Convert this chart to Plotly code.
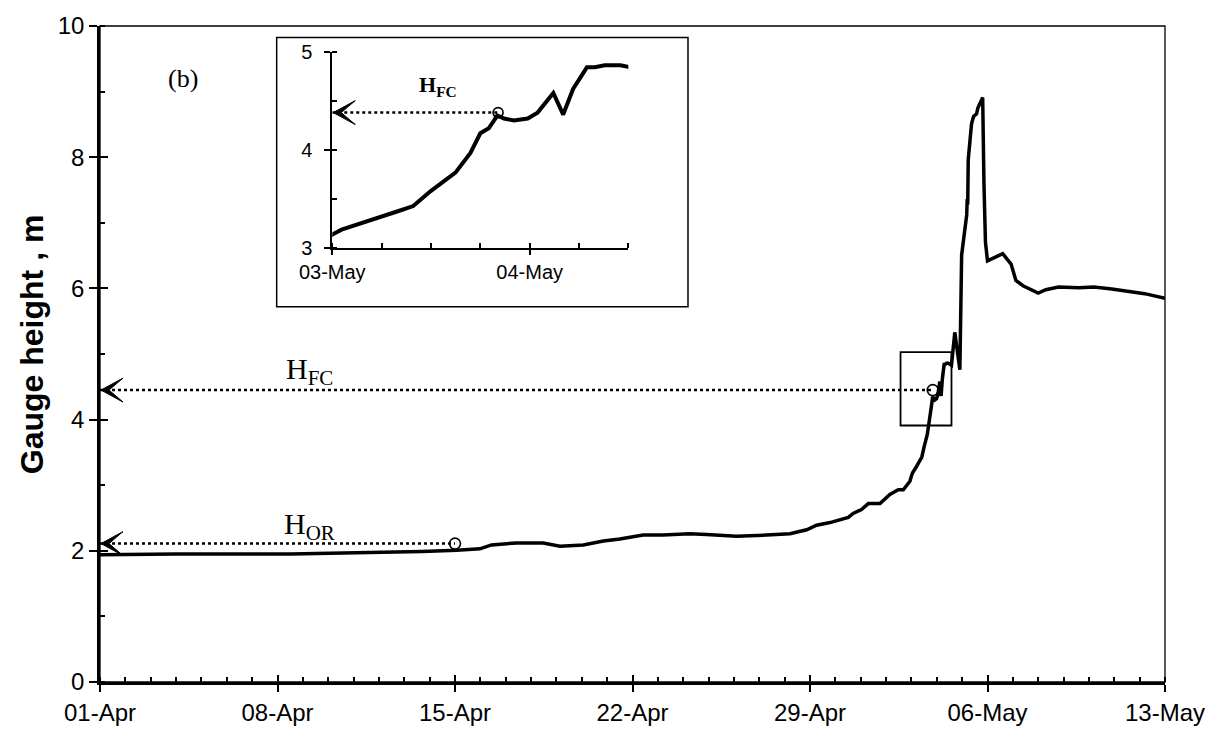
import pandas as pd
import plotly.graph_objects as go

start = pd.Timestamp("2024-04-01")

# Gauge-height record: time as days since 01-Apr 00:00, height in m
days = [0.0, 3.0, 7.5, 11.4, 12.7, 14.07, 14.98, 15.44, 16.43, 17.48, 18.14, 19.06,
        19.85, 20.5, 21.42, 22.21, 23.26, 23.92, 25.1, 26.29, 27.21, 27.87, 28.26,
        28.79, 29.51, 29.7, 30.03, 30.3, 30.76, 31.15, 31.48, 31.68, 31.94, 32.0,
        32.047, 32.175, 32.25, 32.336, 32.41, 32.497, 32.624, 32.70, 32.75, 32.793,
        32.836, 32.87, 32.92, 32.99, 33.04, 33.12, 33.17, 33.22, 33.29, 33.33, 33.38,
        33.46, 33.51, 33.58, 33.71, 33.91, 33.98, 34.18, 34.20, 34.22, 34.24, 34.37,
        34.45, 34.57, 34.62, 34.70, 34.81, 34.86, 34.92, 35.0, 35.3, 35.6, 35.93,
        36.12, 36.4, 37.0, 37.3, 37.8, 38.6, 39.2, 39.9, 40.56, 41.2, 42.0]
height = [1.94, 1.95, 1.95, 1.97, 1.99, 2.01, 2.03, 2.09, 2.12, 2.12, 2.07, 2.09,
          2.15, 2.18, 2.24, 2.24, 2.26, 2.25, 2.22, 2.24, 2.26, 2.32, 2.39,
          2.43, 2.51, 2.57, 2.63, 2.72, 2.72, 2.86, 2.93, 2.93, 3.06, 3.14,
          3.19, 3.27, 3.32, 3.38, 3.43, 3.58, 3.77, 3.97, 4.17, 4.22,
          4.35, 4.32, 4.30, 4.32, 4.38, 4.58, 4.36, 4.62, 4.84, 4.84, 4.86,
          4.86, 4.84, 4.83, 5.33, 4.76, 6.51, 7.12, 7.36, 7.28, 7.96, 8.51,
          8.62, 8.66, 8.75, 8.81, 8.91, 7.60, 6.70, 6.42, 6.48, 6.53, 6.37,
          6.12, 6.04, 5.93, 5.98, 6.02, 6.01, 6.02, 5.99, 5.96, 5.92, 5.85]

# Marked levels
hor_day, hor_value = 14.0, 2.11
hfc_day, hfc_main_value, hfc_inset_value = 32.84, 4.45, 4.38
zoom_box_days = [31.57, 33.58]
zoom_box_heights = [3.91, 5.03]
main_range_days = [0, 42]
inset_range_days = [32.0, 33.5]
inset_range_heights = [3, 5]

DAY_MS = 86400000


def ts(d):
    return (start + pd.Timedelta(days=d)).strftime("%Y-%m-%d %H:%M:%S")


x = start + pd.to_timedelta(days, unit="D")

FONT = "Arial, Liberation Sans, sans-serif"
SERIF = "Times New Roman, Liberation Serif, serif"

fig = go.Figure()
fig.add_trace(go.Scatter(x=x, y=height, mode="lines",
                         line=dict(color="black", width=3.5), xaxis="x", yaxis="y",
                         hoverinfo="skip"))
fig.add_trace(go.Scatter(x=[ts(hor_day), ts(hfc_day)], y=[hor_value, hfc_main_value],
                         mode="markers", xaxis="x", yaxis="y",
                         marker=dict(symbol="circle-open", size=11, color="black",
                                     line=dict(width=1.6, color="black"))))
# inset
fig.add_trace(go.Scatter(x=x, y=height, mode="lines",
                         line=dict(color="black", width=4), xaxis="x2", yaxis="y2"))
fig.add_trace(go.Scatter(x=[ts(hfc_day)], y=[hfc_inset_value], mode="markers",
                         xaxis="x2", yaxis="y2",
                         marker=dict(symbol="circle-open", size=10, color="black",
                                     line=dict(width=1.6, color="black"))))
# empty trace for overlay axes (inner halves of major ticks)
fig.add_trace(go.Scatter(x=[], y=[], xaxis="x3", yaxis="y3", showlegend=False))

main_x_range = [ts(main_range_days[0]), ts(main_range_days[1])]

fig.update_layout(
    width=1228, height=738,
    margin=dict(l=100, r=63, t=21, b=51),
    paper_bgcolor="white", plot_bgcolor="white",
    showlegend=False,
    xaxis=dict(type="date", range=main_x_range, domain=[0, 1], anchor="y",
               showline=True, linewidth=2.5, linecolor="black", showgrid=False,
               zeroline=False, ticks="outside", ticklen=7, tickwidth=2, tickcolor="black",
               tick0=ts(0), dtick=7 * DAY_MS, tickformat="%d-%b",
               tickfont=dict(family=FONT, size=24, color="black"),
               minor=dict(ticks="inside", ticklen=5, tickwidth=1.5, tickcolor="black",
                          dtick=DAY_MS, tick0=ts(0), showgrid=False)),
    yaxis=dict(range=[0, 10], domain=[0, 1], anchor="x",
               showline=True, linewidth=2.5, linecolor="black", showgrid=False,
               zeroline=False, ticks="outside", ticklen=8, tickwidth=2, tickcolor="black",
               dtick=2, tickfont=dict(family=FONT, size=24, color="black"),
               minor=dict(ticks="inside", ticklen=5, tickwidth=1.5, tickcolor="black",
                          dtick=1, showgrid=False)),
    xaxis3=dict(type="date", range=main_x_range, overlaying="x", anchor="y3",
                showline=False, showgrid=False, zeroline=False, showticklabels=False,
                ticks="inside", ticklen=7, tickwidth=2, tickcolor="black",
                tick0=ts(0), dtick=7 * DAY_MS),
    yaxis3=dict(range=[0, 10], overlaying="y", anchor="x3",
                showline=False, showgrid=False, zeroline=False, showticklabels=False,
                ticks="inside", ticklen=8, tickwidth=2, tickcolor="black", dtick=2),
    xaxis2=dict(type="date", range=[ts(inset_range_days[0]), ts(inset_range_days[1])],
                domain=[0.2181, 0.4961], anchor="y2",
                showline=True, linewidth=2, linecolor="black", showgrid=False,
                zeroline=False, ticks="outside", ticklen=5, tickwidth=2, tickcolor="black",
                tick0=ts(inset_range_days[0]), dtick=DAY_MS, tickformat="%d-%b",
                tickfont=dict(family=FONT, size=20, color="black"),
                minor=dict(ticks="inside", ticklen=5, tickwidth=1.5, tickcolor="black",
                           dtick=DAY_MS / 4, tick0=ts(inset_range_days[0]), showgrid=False)),
    yaxis2=dict(range=inset_range_heights, domain=[0.661, 0.961], anchor="x2",
                showline=True, linewidth=2, linecolor="black", showgrid=False,
                zeroline=False, ticks="outside", ticklen=6, tickwidth=2, tickcolor="black",
                dtick=1, tickfont=dict(family=FONT, size=20, color="black"),
                ticklabelstandoff=8,
                minor=dict(ticks="inside", ticklen=5, tickwidth=1.5, tickcolor="black",
                           dtick=0.5, showgrid=False)),
)

shapes = []
# frame around main plot area
shapes.append(dict(type="rect", xref="paper", yref="paper", x0=0, x1=1, y0=0, y1=1,
                   line=dict(color="black", width=1.3)))
# inset frame
shapes.append(dict(type="rect", xref="paper", yref="paper", x0=0.1659, x1=0.5521,
                   y0=0.572, y1=0.9826, line=dict(color="black", width=1.5)))
# zoom box on main chart
shapes.append(dict(type="rect", xref="x", yref="y",
                   x0=ts(zoom_box_days[0]), x1=ts(zoom_box_days[1]),
                   y0=zoom_box_heights[0], y1=zoom_box_heights[1],
                   line=dict(color="black", width=1.8)))


def arrow(xref, yref, x_from_day, x_to_day, yval):
    shapes.append(dict(type="line", xref=xref, yref=yref, x0=ts(x_from_day), x1=ts(x_to_day),
                       y0=yval, y1=yval, line=dict(color="black", width=2.5, dash="dot")))
    shapes.append(dict(type="path", xref=xref, yref=yref, xsizemode="pixel", ysizemode="pixel",
                       xanchor=ts(x_from_day), yanchor=yval,
                       path="M 1,0 L 23,12 L 9,0 L 23,-12 Z",
                       fillcolor="black", line=dict(color="black", width=1)))


arrow("x", "y", main_range_days[0], hfc_day, hfc_main_value)
arrow("x", "y", main_range_days[0], hor_day, hor_value)
arrow("x2", "y2", inset_range_days[0], hfc_day, hfc_inset_value)
fig.update_layout(shapes=shapes)

annotations = [
    dict(text="(b)", xref="paper", yref="paper", x=0.078, y=0.92, showarrow=False,
         xanchor="center", yanchor="middle",
         font=dict(family=SERIF, size=26, color="black")),
    dict(text="H<sub>FC</sub>", xref="paper", yref="paper", x=0.197, y=0.474, showarrow=False,
         xanchor="center", yanchor="middle",
         font=dict(family=SERIF, size=30, color="black")),
    dict(text="H<sub>OR</sub>", xref="paper", yref="paper", x=0.197, y=0.238, showarrow=False,
         xanchor="center", yanchor="middle",
         font=dict(family=SERIF, size=30, color="black")),
    dict(text="<b>H<sub>FC</sub></b>", xref="paper", yref="paper", x=0.3174, y=0.908,
         showarrow=False, xanchor="center", yanchor="middle",
         font=dict(family=SERIF, size=22, color="black")),
    dict(text="<b>Gauge height , m</b>", xref="paper", yref="paper", x=-0.0638, y=0.515,
         textangle=-90, showarrow=False, xanchor="center", yanchor="middle",
         font=dict(family=FONT, size=32, color="black")),
]
fig.update_layout(annotations=annotations)

fig.write_html("out.html")
